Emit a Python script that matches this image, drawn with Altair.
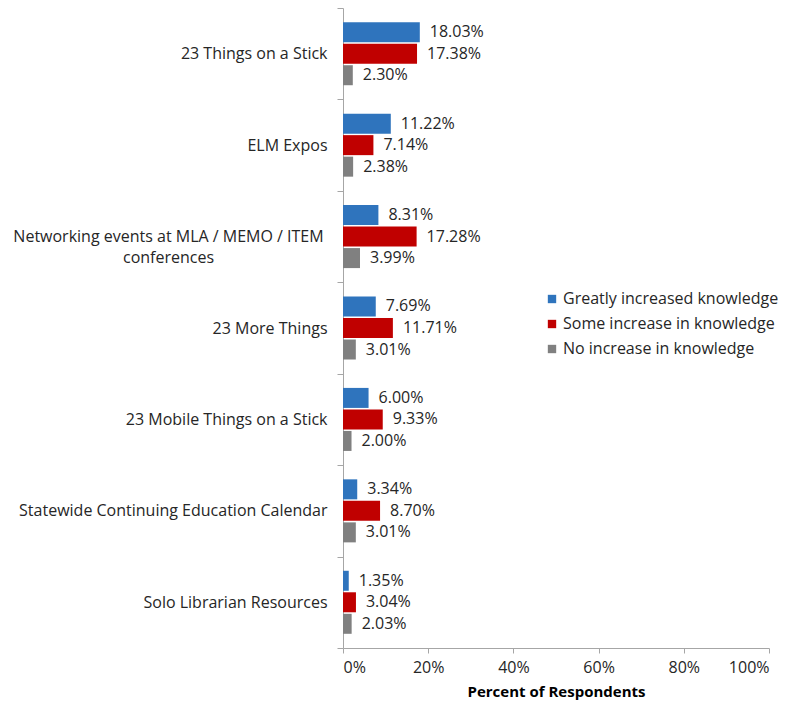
import altair as alt
import pandas as pd

categories = [
    "23 Things on a Stick",
    "ELM Expos",
    "Networking events at MLA / MEMO / ITEM conferences",
    "23 More Things",
    "23 Mobile Things on a Stick",
    "Statewide Continuing Education Calendar",
    "Solo Librarian Resources",
]
series = [
    "Greatly increased knowledge",
    "Some increase in knowledge",
    "No increase in knowledge",
]
greatly = [18.03, 11.22, 8.31, 7.69, 6.00, 3.34, 1.35]
some = [17.38, 7.14, 17.28, 11.71, 9.33, 8.70, 3.04]
none_ = [2.30, 2.38, 3.99, 3.01, 2.00, 3.01, 2.03]
colors = ["#2F74BD", "#C00000", "#808080"]

rows = []
for i, c in enumerate(categories):
    for s, vals in zip(series, [greatly, some, none_]):
        rows.append({"category": c, "series": s, "value": vals[i] / 100.0,
                     "label": f"{vals[i]:.2f}%"})
df = pd.DataFrame(rows)

FONT = "Open Sans"
FS = 16
TXT = "#262626"
NET = categories[2]

y_enc = alt.Y(
    "category:N",
    sort=categories,
    title=None,
    scale=alt.Scale(paddingInner=0, paddingOuter=0),
    axis=alt.Axis(
        labelFont=FONT,
        labelFontSize=FS,
        labelColor=TXT,
        labelLimit=400,
        labelExpr="datum.value == '" + NET + "' ? ['Networking events at MLA / MEMO / ITEM', 'conferences'] : datum.value",
        labelAlign={"condition": {"test": "datum.value == '" + NET + "'", "value": "center"}, "value": "right"},
        labelPadding={"condition": {"test": "datum.value == '" + NET + "'", "value": 169}, "value": 10},
        labelLineHeight=21,
        tickBand="extent",
        tickSize=6,
        tickColor="#A6A6A6",
        domainColor="#A6A6A6",
        grid=False,
    ),
)
yoff = alt.YOffset("series:N", sort=series,
                   scale=alt.Scale(paddingInner=0.07, paddingOuter=0.66))

base = alt.Chart(df).encode(y=y_enc, yOffset=yoff)

bars = base.mark_bar().encode(
    x=alt.X(
        "value:Q",
        scale=alt.Scale(domain=[0, 1]),
        title="Percent of Respondents",
        axis=alt.Axis(
            format=".0%",
            values=[0, 0.2, 0.4, 0.6, 0.8, 1.0],
            labelFont=FONT,
            labelFontSize=FS,
            labelColor=TXT,
            labelPadding=6,
            titleFont=FONT,
            titleFontSize=15,
            titleFontWeight="bold",
            titleColor="#000000",
            titlePadding=9,
            tickSize=5,
            tickColor="#A6A6A6",
            domainColor="#A6A6A6",
            grid=False,
        ),
    ),
    color=alt.Color(
        "series:N",
        sort=series,
        scale=alt.Scale(domain=series, range=colors),
        legend=alt.Legend(
            title=None,
            orient="none",
            legendX=201,
            legendY=283,
            symbolType="square",
            symbolSize=70,
            symbolStrokeWidth=0,
            labelFont=FONT,
            labelFontSize=FS,
            labelColor=TXT,
            labelLimit=400,
            rowPadding=9,
            labelOffset=3,
        ),
    ),
)

labels = base.mark_text(align="left", baseline="middle", dx=10, font=FONT,
                        fontSize=FS, color=TXT).encode(
    x="value:Q",
    text="label:N",
)

chart = (
    alt.layer(bars, labels)
    .properties(
        width=426,
        height=640,
        padding={"left": 335, "top": 0, "right": 15, "bottom": 56},
        autosize=alt.AutoSizeParams(type="none"),
    )
    .configure_view(stroke=None)
)

chart.save("out.html", embed_options={"renderer": "svg", "actions": False})
